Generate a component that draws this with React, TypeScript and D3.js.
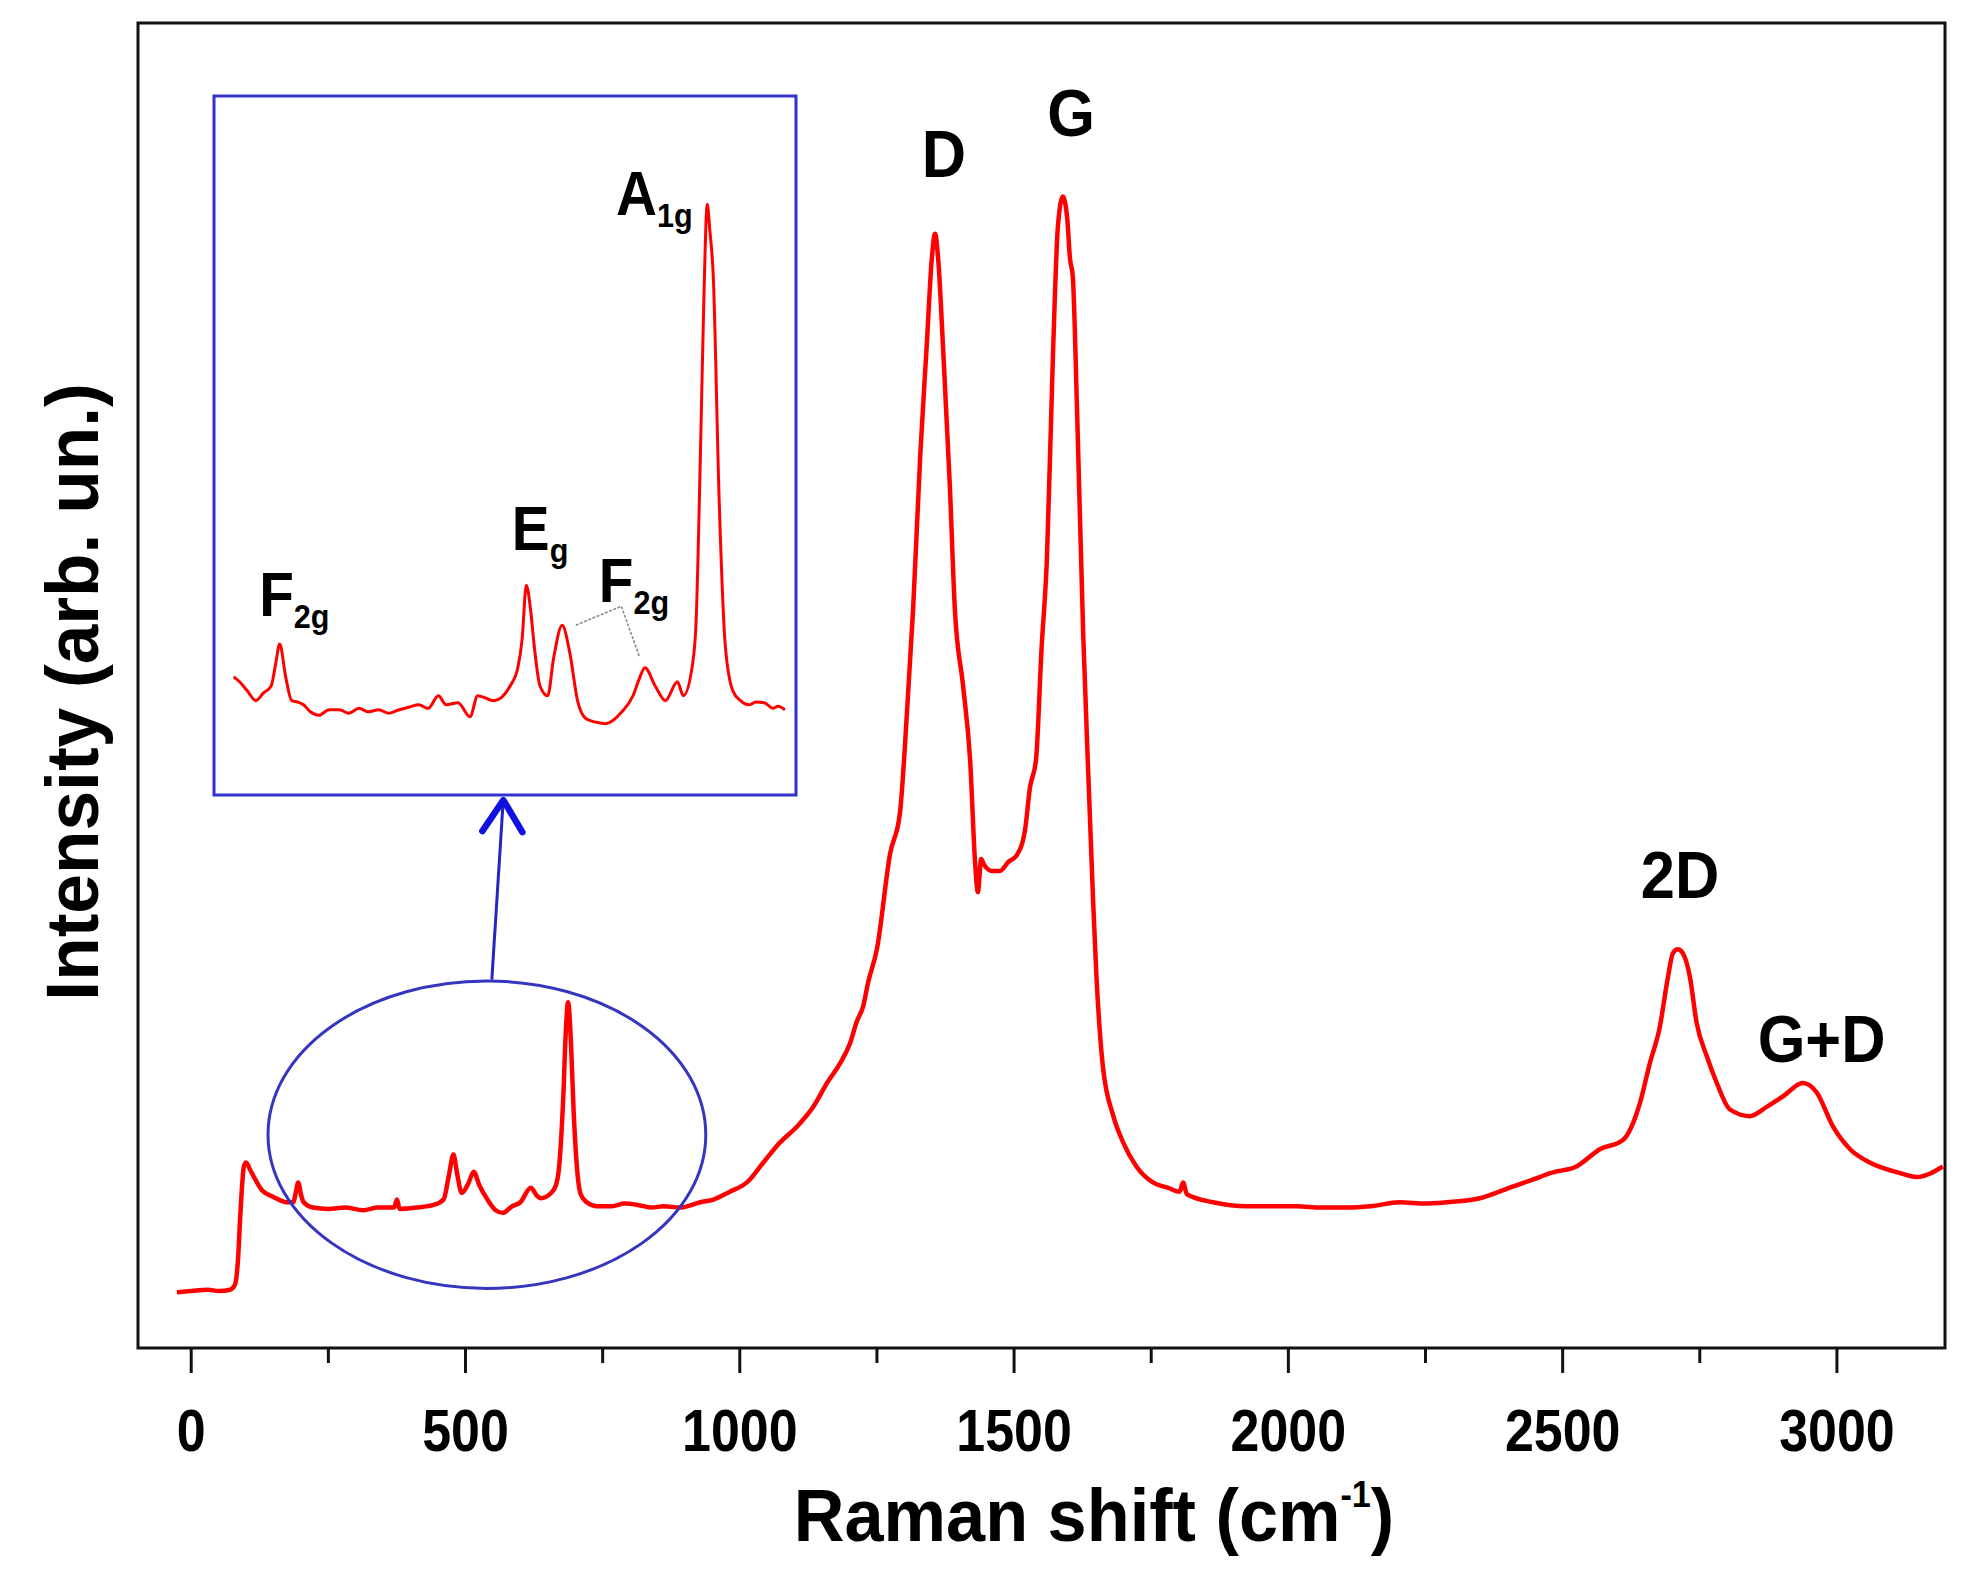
import * as d3 from 'd3'

// main spectrum (cm-1 / arbitrary units)
const ramanShift = [
  -26, 0, 30, 50, 71, 80, 85, 90, 96, 100, 108, 117, 129, 150, 174, 186, 191, 195, 200, 205,
  222, 250, 280, 314, 340, 370, 375, 380, 410, 442, 460, 470, 478, 485, 493, 505, 515, 525, 540, 555,
  568, 585, 600, 619, 630, 637, 656, 665, 670, 678, 683, 687, 692, 697, 703, 710, 721, 740, 767, 790,
  814, 840, 861, 891, 928, 952, 982, 1013, 1043, 1073, 1104, 1134, 1159, 1183, 1201, 1213, 1225, 1234, 1250, 1274,
  1292, 1305, 1316, 1329, 1341, 1350, 1356, 1362, 1371, 1383, 1392, 1407, 1420, 1429, 1434, 1440, 1445, 1460, 1474, 1490,
  1505, 1520, 1529, 1540, 1550, 1560, 1571, 1580, 1589, 1597, 1602, 1607, 1615, 1626, 1638, 1644, 1650, 1662, 1681, 1699,
  1723, 1753, 1780, 1802, 1808, 1815, 1863, 1924, 1970, 2015, 2060, 2106, 2150, 2203, 2250, 2289, 2349, 2410, 2458, 2477,
  2525, 2568, 2610, 2641, 2659, 2677, 2692, 2701, 2710, 2719, 2732, 2744, 2763, 2781, 2805, 2841, 2872, 2902, 2938, 2963,
  2993, 3024, 3060, 3115, 3145, 3193,
]
const intensity = [
  42, 43, 44, 43, 44, 48, 65, 104, 137, 140, 134, 127, 119, 114, 110, 110, 118, 125, 116, 110,
  106, 105, 106, 104, 106, 106, 112, 105, 106, 108, 112, 131, 146, 131, 117, 124, 133, 123, 112, 104,
  102, 107, 110, 121, 115, 113, 117, 123, 134, 187, 240, 261, 233, 180, 137, 116, 110, 107, 107, 109,
  108, 106, 107, 106, 110, 112, 118, 125, 140, 155, 167, 182, 200, 215, 230, 246, 258, 276, 301, 373,
  404, 481, 558, 674, 758, 822, 841, 820, 751, 650, 558, 500, 443, 366, 344, 369, 365, 360, 360, 367,
  372, 391, 423, 444, 527, 597, 751, 847, 869, 852, 822, 809, 705, 539, 404, 338, 282, 212, 175, 155,
  137, 125, 121, 118, 125, 116, 110, 107, 107, 107, 106, 106, 107, 110, 109, 110, 113, 122, 129, 132,
  137, 150, 157, 185, 215, 242, 280, 298, 301, 298, 280, 246, 220, 200, 180, 175, 182, 190, 200, 193,
  167, 150, 140, 132, 129, 137,
]

// inset spectrum (low-wavenumber range)
const insetShift = [
  140, 147, 156, 166, 175, 184, 189, 194, 201, 208, 215, 222, 230, 240, 252, 264, 275, 287, 298, 310,
  322, 334, 346, 357, 368, 380, 389, 403, 417, 426, 445, 464, 473, 478, 483, 488, 492, 499, 508, 515,
  525, 534, 543, 553, 565, 576, 595, 608, 615, 622, 634, 646, 660, 667, 678, 682, 687, 691, 695, 698,
  702, 709, 716, 725, 734, 744, 752, 762, 772, 778, 786,
]
const insetIntensity = [
  16.9, 16.2, 14.9, 13.5, 14.6, 15.6, 18.6, 21.6, 16.9, 13.5, 13.3, 12.9, 11.9, 11.4, 12.2, 12.2, 11.7, 12.4, 11.9, 12.2,
  11.7, 12.2, 12.6, 12.9, 12.4, 14.2, 12.9, 13.2, 11.2, 14.2, 13.5, 15.6, 18.2, 22.2, 30, 26.5, 21.6, 15.6, 14.2, 19.6,
  24.3, 20.3, 13.5, 10.9, 10.4, 10.2, 11.9, 14.2, 16.5, 18.2, 15.6, 13.5, 16.2, 14.2, 18.9, 25, 48.8, 70.8, 84.5, 80.8,
  74.4, 42, 21.6, 14.9, 13.5, 12.9, 13.3, 13.2, 12.4, 12.7, 12.2,
]

const majorTicks = [0, 500, 1000, 1500, 2000, 2500, 3000]
const minorTicks = [250, 750, 1250, 1750, 2250, 2750]

// peak labels: name + [shift, intensity]
const peakNames = ['D', 'G', '2D', 'G+D']
const peakPos = [[1372, 884], [1604, 915], [2714, 340], [2972, 216]]

// inset labels: [main, sub, shift, intensity]
const insetLabels: [string, string, number, number][] = [
  ['F', '2g', 170, 25.6],
  ['E', 'g', 466, 35],
  ['F', '2g', 568, 27.6],
  ['A', '1g', 588, 83],
]

const FONT = '"Liberation Sans", Arial, Helvetica, sans-serif'

function Txt({ x, y, size, sx = 0.9, anchor = 'start', children, rotate = 0 }: any) {
  return (
    <text
      transform={`translate(${x},${y}) rotate(${rotate}) scale(${sx},1)`}
      fontSize={size}
      fontWeight="bold"
      fontFamily={FONT}
      textAnchor={anchor}
      fill="#000"
    >
      {children}
    </text>
  )
}

export default function App() {
  const W = 1973
  const H = 1571
  const left = 138, right = 1945, top = 23, bottom = 1348

  const x = d3.scaleLinear().domain([-97, 3197]).range([left, right])
  const y = d3.scaleLinear().domain([0, 1000]).range([bottom, top])

  // inset scales
  const ix = d3.scaleLinear().domain([117, 799]).range([214, 796])
  const iy = d3.scaleLinear().domain([0, 100]).range([795, 96])

  const mainData = ramanShift.map((s, i) => [s, intensity[i]] as [number, number])
  const insetData = insetShift.map((s, i) => [s, insetIntensity[i]] as [number, number])

  const line = d3.line<[number, number]>().x(d => x(d[0])).y(d => y(d[1])).curve(d3.curveMonotoneX)
  const insetLine = d3.line<[number, number]>().x(d => ix(d[0])).y(d => iy(d[1])).curve(d3.curveMonotoneX)

  // zoom ellipse and arrow in data coords
  const ecx = x(539), ecy = y(161)
  const erx = x(539 + 399) - x(539), ery = y(161) - y(161 + 116)
  const a0 = [x(548), y(278)]
  const a1 = [x(569), y(415)]

  const connector = [[541, 24.3], [594.3, 27], [615.2, 19.9]]

  return (
    <div style={{ position: 'absolute', left: 0, top: 0 }}>
      <svg width={W} height={H} style={{ display: 'block', background: '#fff' }}>
        <rect x={0} y={0} width={W} height={H} fill="#fff" />

        {/* frame */}
        <rect x={left} y={top} width={right - left} height={bottom - top} fill="none" stroke="#111" strokeWidth={3} />

        {/* ticks */}
        {majorTicks.map(t => (
          <line key={'M' + t} x1={x(t)} x2={x(t)} y1={bottom} y2={bottom + 25} stroke="#111" strokeWidth={3} />
        ))}
        {minorTicks.map(t => (
          <line key={'m' + t} x1={x(t)} x2={x(t)} y1={bottom} y2={bottom + 15} stroke="#111" strokeWidth={3} />
        ))}
        {majorTicks.map(t => (
          <Txt key={'L' + t} x={x(t)} y={1451} size={59} sx={0.88} anchor="middle">{String(t)}</Txt>
        ))}

        {/* axis titles */}
        <Txt x={1094} y={1541} size={74} sx={0.95} anchor="middle">
          Raman shift (cm<tspan fontSize={36} dy={-34}>-1</tspan><tspan dy={34}>)</tspan>
        </Txt>
        <Txt x={98} y={692} size={75} sx={0.95} anchor="middle" rotate={-90}>Intensity (arb. un.)</Txt>

        {/* spectrum */}
        <path d={line(mainData) || ''} fill="none" stroke="#ff0000" strokeWidth={4.5} strokeLinejoin="round" />

        {/* peak labels */}
        {peakNames.map((n, i) => (
          <Txt key={n} x={x(peakPos[i][0])} y={y(peakPos[i][1])} size={66} sx={0.93} anchor="middle">{n}</Txt>
        ))}

        {/* zoom ellipse + arrow */}
        <ellipse cx={ecx} cy={ecy} rx={erx} ry={ery} fill="none" stroke="#3535c0" strokeWidth={3} />
        <line x1={a0[0]} y1={a0[1]} x2={a1[0]} y2={a1[1]} stroke="#2525c0" strokeWidth={3} />
        <path
          d={`M${a1[0] - 21},${a1[1] + 33} L${a1[0]},${a1[1] + 2} L${a1[0] + 19},${a1[1] + 34}`}
          fill="none" stroke="#1010e0" strokeWidth={6.5} strokeLinecap="round" strokeLinejoin="round"
        />

        {/* inset */}
        <rect x={214} y={96} width={582} height={699} fill="#fff" stroke="#3333cc" strokeWidth={3} />
        <path d={insetLine(insetData) || ''} fill="none" stroke="#ff0000" strokeWidth={3} strokeLinejoin="round" />
        <polyline
          points={connector.map(p => `${ix(p[0])},${iy(p[1])}`).join(' ')}
          fill="none" stroke="#8a8a8a" strokeWidth={1.6} strokeDasharray="3,1.5"
        />
        {insetLabels.map((l, i) => (
          <Txt key={'i' + i} x={ix(l[2])} y={iy(l[3])} size={63} sx={0.9}>
            {l[0]}<tspan fontSize={34} dy={12}>{l[1]}</tspan>
          </Txt>
        ))}
      </svg>
    </div>
  )
}
